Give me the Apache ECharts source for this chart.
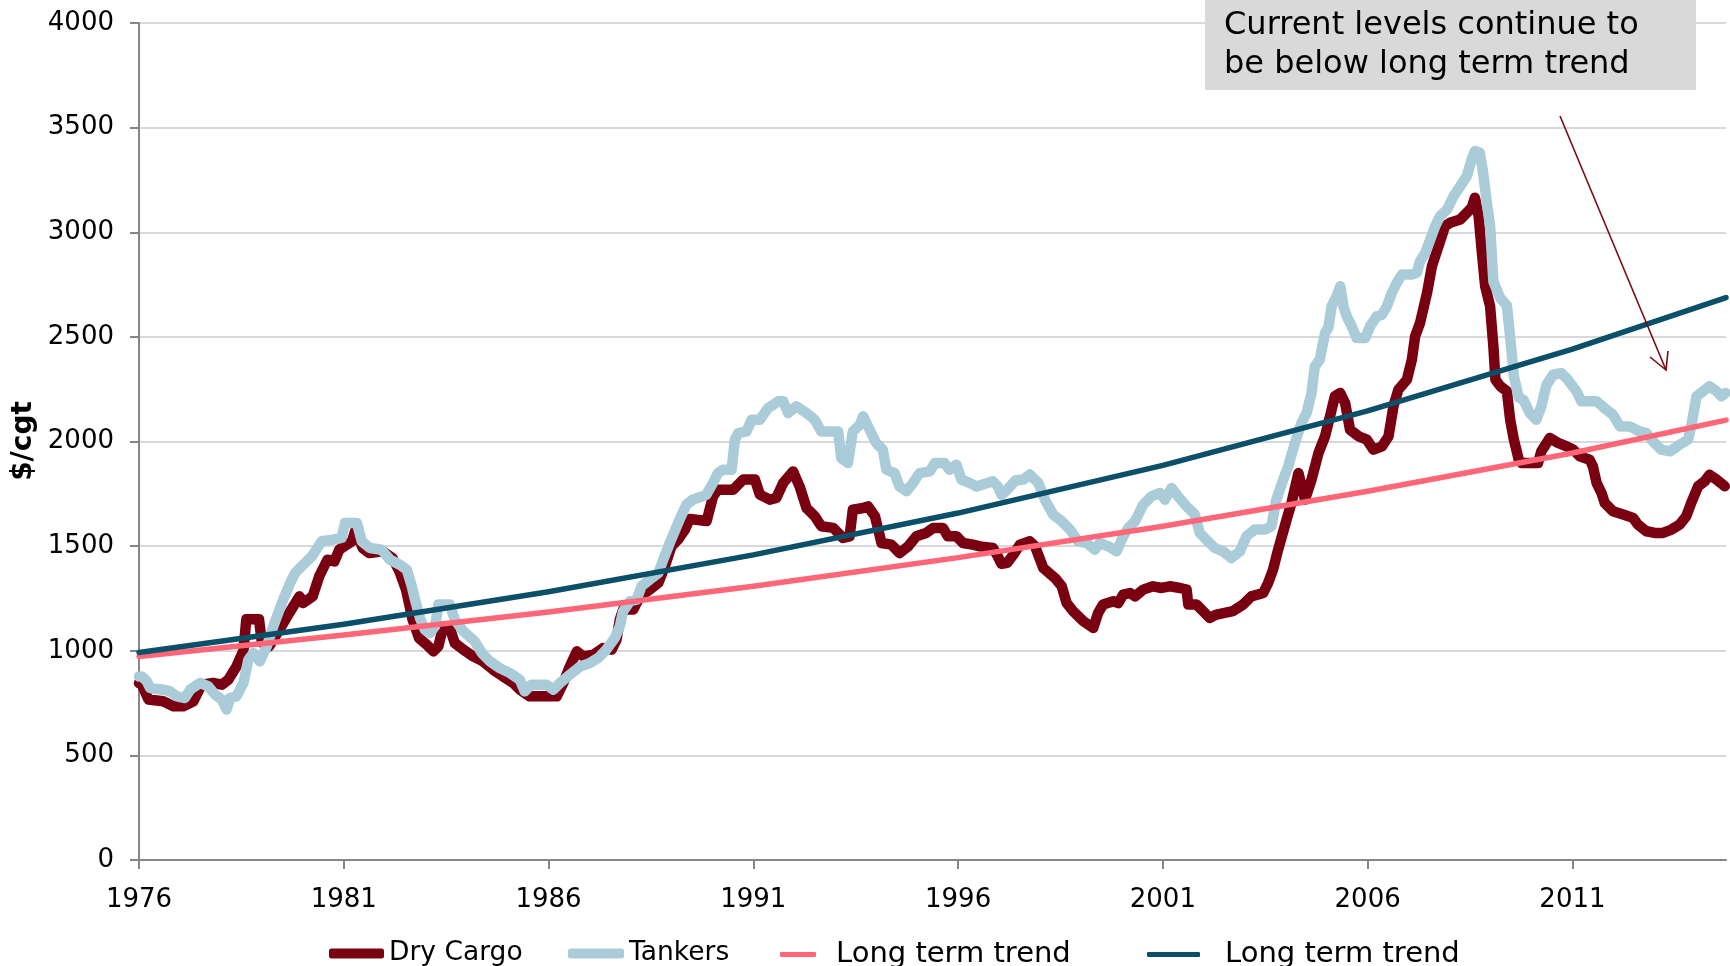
<!DOCTYPE html>
<html>
<head>
<meta charset="utf-8">
<script src="https://cdn.jsdelivr.net/npm/echarts@6/dist/echarts.min.js"></script>
<style>
  html, body { margin: 0; padding: 0; background: #fff; }
  #chart { width: 1730px; height: 966px; }
</style>
</head>
<body>
<div id="chart"></div>
<script>
// tick years on the x axis
const yearTicks = [1976, 1981, 1986, 1991, 1996, 2001, 2006, 2011];

// Dry Cargo newbuilding price, [year, $/cgt]
const dryCargo = [
  [1976.0, 845], [1976.07, 838], [1976.23, 767], [1976.59, 759], [1976.84, 735], [1977.08, 735],
  [1977.33, 759], [1977.53, 838], [1977.81, 846], [1978.02, 838], [1978.18, 861], [1978.38, 925],
  [1978.55, 1000], [1978.62, 1150], [1978.93, 1150], [1979.0, 1040], [1979.18, 1021], [1979.43, 1101],
  [1979.67, 1181], [1979.92, 1260], [1980.0, 1228], [1980.24, 1260], [1980.40, 1356], [1980.6, 1435],
  [1980.77, 1427], [1980.89, 1483], [1981.01, 1499], [1981.2, 1523], [1981.29, 1579], [1981.46, 1491],
  [1981.62, 1467], [1981.95, 1475], [1982.19, 1443], [1982.36, 1379], [1982.52, 1292], [1982.68, 1149],
  [1982.84, 1060], [1983.02, 1030], [1983.19, 997], [1983.31, 1021], [1983.43, 1117], [1983.59, 1109],
  [1983.71, 1037], [1983.92, 1005], [1984.16, 973], [1984.4, 949], [1984.65, 909], [1984.89, 877],
  [1985.14, 846], [1985.30, 814], [1985.54, 782], [1985.79, 782], [1986.2, 782], [1986.36, 846],
  [1986.52, 925], [1986.69, 997], [1986.85, 973], [1987.09, 981], [1987.33, 1013], [1987.54, 1005],
  [1987.66, 1053], [1987.74, 1149], [1987.82, 1197], [1988.07, 1197], [1988.23, 1260], [1988.47, 1292],
  [1988.68, 1324], [1988.84, 1403], [1989.0, 1499], [1989.16, 1531], [1989.33, 1579], [1989.45, 1630],
  [1989.86, 1620], [1990.02, 1740], [1990.14, 1770], [1990.51, 1770], [1990.75, 1818], [1991.04, 1818],
  [1991.16, 1746], [1991.40, 1722], [1991.56, 1730], [1991.73, 1802], [1991.97, 1857], [1992.13, 1785],
  [1992.30, 1682], [1992.50, 1643], [1992.66, 1595], [1992.95, 1587], [1993.19, 1539], [1993.35, 1547],
  [1993.43, 1674], [1993.68, 1682], [1993.80, 1690], [1993.97, 1643], [1994.13, 1515], [1994.37, 1507],
  [1994.57, 1467], [1994.78, 1499], [1994.98, 1547], [1995.22, 1563], [1995.39, 1587], [1995.63, 1587],
  [1995.75, 1547], [1995.96, 1547], [1996.12, 1515], [1996.36, 1507], [1996.53, 1499], [1996.85, 1491],
  [1996.97, 1451], [1997.06, 1415], [1997.2, 1420], [1997.35, 1459], [1997.51, 1507], [1997.75, 1523],
  [1997.88, 1499], [1998.08, 1395], [1998.37, 1347], [1998.53, 1308], [1998.65, 1228], [1998.81, 1189],
  [1999.06, 1141], [1999.30, 1109], [1999.42, 1181], [1999.54, 1221], [1999.79, 1237], [1999.91, 1228],
  [2000.03, 1268], [2000.20, 1276], [2000.32, 1260], [2000.52, 1292], [2000.76, 1308], [2000.97, 1300],
  [2001.17, 1308], [2001.42, 1300], [2001.58, 1292], [2001.62, 1221], [2001.82, 1221], [2001.98, 1189],
  [2002.14, 1157], [2002.31, 1173], [2002.51, 1181], [2002.71, 1189], [2002.96, 1221], [2003.16, 1260],
  [2003.45, 1276], [2003.57, 1324], [2003.69, 1387], [2003.81, 1480], [2004.02, 1626], [2004.14, 1706],
  [2004.31, 1849], [2004.47, 1722], [2004.63, 1818], [2004.80, 1945], [2004.96, 2025], [2005.08, 2120],
  [2005.20, 2216], [2005.33, 2232], [2005.45, 2184], [2005.57, 2056], [2005.78, 2025], [2005.98, 2009],
  [2006.14, 1961], [2006.35, 1977], [2006.51, 2025], [2006.63, 2168], [2006.75, 2248], [2006.96, 2296],
  [2007.08, 2392], [2007.16, 2503], [2007.28, 2567], [2007.45, 2710], [2007.57, 2838], [2007.73, 2934],
  [2007.89, 3029], [2008.01, 3045], [2008.26, 3061], [2008.38, 3085], [2008.54, 3117], [2008.62, 3165],
  [2008.71, 3077], [2008.79, 2902], [2008.87, 2742], [2008.99, 2646], [2009.07, 2455], [2009.12, 2296],
  [2009.24, 2264], [2009.40, 2240], [2009.48, 2104], [2009.57, 2009], [2009.69, 1913], [2009.76, 1897],
  [2010.16, 1897], [2010.24, 1953], [2010.45, 2017], [2010.65, 1993], [2010.86, 1977], [2011.02, 1961],
  [2011.18, 1929], [2011.42, 1913], [2011.50, 1881], [2011.59, 1802], [2011.71, 1754], [2011.79, 1706],
  [2011.99, 1667], [2012.24, 1651], [2012.48, 1635], [2012.60, 1603], [2012.81, 1571], [2013.01, 1563],
  [2013.21, 1563], [2013.42, 1579], [2013.62, 1603], [2013.78, 1643], [2013.90, 1706], [2014.07, 1786],
  [2014.23, 1810], [2014.35, 1841], [2014.52, 1818], [2014.72, 1786]
];

// Tankers newbuilding price, [year, $/cgt]
const tankers = [
  [1976.0, 877], [1976.07, 877], [1976.19, 854], [1976.27, 822], [1976.59, 814], [1976.76, 806],
  [1976.92, 782], [1977.12, 774], [1977.25, 814], [1977.49, 846], [1977.69, 830], [1977.86, 790],
  [1978.02, 767], [1978.14, 719], [1978.22, 774], [1978.38, 782], [1978.55, 846], [1978.67, 957],
  [1978.79, 989], [1978.95, 949], [1979.12, 1021], [1979.28, 1117], [1979.52, 1244], [1979.69, 1324],
  [1979.81, 1371], [1980.01, 1411], [1980.22, 1451], [1980.46, 1523], [1980.74, 1531], [1980.95, 1539],
  [1981.03, 1611], [1981.32, 1611], [1981.44, 1523], [1981.64, 1491], [1981.92, 1483], [1982.13, 1435],
  [1982.37, 1411], [1982.54, 1387], [1982.66, 1308], [1982.74, 1244], [1982.86, 1157], [1982.98, 1100],
  [1983.11, 1085], [1983.23, 1117], [1983.31, 1221], [1983.59, 1221], [1983.71, 1149], [1983.92, 1093],
  [1984.2, 1045], [1984.37, 989], [1984.57, 949], [1984.81, 917], [1985.06, 893], [1985.30, 861],
  [1985.42, 806], [1985.58, 838], [1985.95, 838], [1986.12, 814], [1986.28, 846], [1986.52, 885],
  [1986.77, 925], [1987.01, 941], [1987.21, 965], [1987.41, 1005], [1987.62, 1061], [1987.74, 1117],
  [1987.82, 1189], [1987.99, 1237], [1988.15, 1244], [1988.27, 1308], [1988.47, 1340], [1988.68, 1371],
  [1988.8, 1435], [1988.96, 1515], [1989.2, 1627], [1989.37, 1699], [1989.53, 1723], [1989.85, 1745],
  [1990.01, 1800], [1990.14, 1850], [1990.26, 1865], [1990.47, 1865], [1990.55, 2009], [1990.63, 2040],
  [1990.83, 2048], [1990.96, 2104], [1991.16, 2104], [1991.36, 2160], [1991.61, 2192], [1991.73, 2192],
  [1991.85, 2136], [1992.05, 2168], [1992.30, 2136], [1992.50, 2104], [1992.66, 2048], [1993.07, 2048],
  [1993.15, 1920], [1993.31, 1897], [1993.43, 2048], [1993.60, 2080], [1993.68, 2120], [1993.84, 2056],
  [1994.00, 1993], [1994.16, 1961], [1994.25, 1865], [1994.45, 1849], [1994.57, 1785], [1994.74, 1762],
  [1994.9, 1802], [1995.06, 1849], [1995.31, 1857], [1995.43, 1897], [1995.67, 1897], [1995.79, 1865],
  [1995.96, 1889], [1996.08, 1818], [1996.28, 1802], [1996.45, 1785], [1996.85, 1810], [1996.97, 1785],
  [1997.06, 1745], [1997.18, 1766], [1997.40, 1814], [1997.59, 1818], [1997.75, 1842], [1997.96, 1802],
  [1998.12, 1722], [1998.32, 1651], [1998.53, 1619], [1998.73, 1579], [1998.93, 1523], [1999.14, 1515],
  [1999.34, 1483], [1999.46, 1515], [1999.67, 1499], [1999.87, 1475], [2000.03, 1547], [2000.16, 1587],
  [2000.32, 1619], [2000.52, 1698], [2000.72, 1738], [2000.93, 1754], [2001.05, 1722], [2001.21, 1778],
  [2001.37, 1738], [2001.58, 1690], [2001.78, 1651], [2001.90, 1563], [2002.06, 1531], [2002.27, 1491],
  [2002.47, 1475], [2002.67, 1443], [2002.88, 1475], [2003.04, 1547], [2003.24, 1579], [2003.49, 1579],
  [2003.65, 1595], [2003.77, 1722], [2003.94, 1818], [2004.06, 1882], [2004.22, 1990], [2004.38, 2088],
  [2004.51, 2136], [2004.63, 2232], [2004.71, 2359], [2004.83, 2391], [2004.96, 2519], [2005.04, 2543],
  [2005.12, 2646], [2005.24, 2694], [2005.33, 2742], [2005.41, 2646], [2005.49, 2598], [2005.61, 2551],
  [2005.73, 2495], [2005.94, 2495], [2006.06, 2551], [2006.22, 2598], [2006.35, 2606], [2006.47, 2646],
  [2006.59, 2710], [2006.71, 2758], [2006.84, 2798], [2007.08, 2798], [2007.20, 2806], [2007.28, 2862],
  [2007.41, 2902], [2007.53, 2966], [2007.65, 3029], [2007.77, 3077], [2007.94, 3109], [2008.10, 3173],
  [2008.26, 3220], [2008.42, 3268], [2008.54, 3348], [2008.62, 3388], [2008.74, 3380], [2008.82, 3284],
  [2008.91, 3141], [2008.99, 3029], [2009.07, 2765], [2009.24, 2685], [2009.40, 2650], [2009.48, 2500],
  [2009.57, 2312], [2009.69, 2210], [2009.80, 2200], [2009.96, 2136], [2010.12, 2104], [2010.24, 2168],
  [2010.37, 2272], [2010.53, 2319], [2010.73, 2327], [2010.89, 2295], [2011.10, 2240], [2011.22, 2192],
  [2011.59, 2192], [2011.83, 2152], [2011.99, 2128], [2012.16, 2072], [2012.40, 2072], [2012.64, 2048],
  [2012.81, 2040], [2012.97, 2000], [2013.17, 1961], [2013.38, 1953], [2013.62, 1985], [2013.82, 2009],
  [2013.90, 2072], [2014.03, 2216], [2014.19, 2240], [2014.35, 2264], [2014.52, 2240], [2014.64, 2216],
  [2014.74, 2232]
];

// long term trend curves, read at the tick years and the right edge
const trendYears = [1976, 1981, 1986, 1991, 1996, 2001, 2006, 2011, 2014.75];
const dryTrend = [973, 1075, 1185, 1308, 1445, 1595, 1762, 1945, 2102];
const tankerTrend = [992, 1127, 1282, 1458, 1658, 1886, 2146, 2441, 2688];

const FONT = 'DejaVu Sans, Verdana, sans-serif';
const COLORS = {
  dry: '#780010',
  tanker: '#AACBD8',
  dryTrend: '#FF6678',
  tankerTrend: '#0B4F69',
  axis: '#868686',
  grid: '#D9D9D9'
};

const chart = echarts.init(document.getElementById('chart'));

/**
 * one legend per entry, so each one can sit where the reference puts it
 */
const makeLegend = (name, left, iconW, iconH, fontSize, textGap, label) => ({
  data: [name],
  left: left,
  top: 940,
  padding: 0,
  icon: 'roundRect',
  itemWidth: iconW,
  itemHeight: iconH,
  selectedMode: false,
  formatter: () => label,
  textStyle: {
    fontFamily: FONT,
    fontSize: fontSize,
    color: '#000',
    padding: [0, 0, 0, textGap]
  }
});

const lineSeries = (name, data, color, width) => ({
  name: name,
  type: 'line',
  data: data,
  showSymbol: false,
  symbol: 'none',
  color: color,
  lineStyle: { color: color, width: width, cap: 'round', join: 'round' },
  emphasis: { disabled: true }
});

const option = {
  animation: false,
  backgroundColor: '#fff',
  grid: { left: 139, right: 4, top: 23, bottom: 106, containLabel: false, outerBoundsMode: 'none' },
  legend: [
    makeLegend('Dry Cargo', 329, 55, 10, 26.5, 0, 'Dry Cargo'),
    makeLegend('Tankers', 568, 56, 10, 26.5, 0, 'Tankers'),
    makeLegend('Dry trend', 780, 36, 5, 29, 15, 'Long term trend'),
    makeLegend('Tanker trend', 1147, 53, 5, 29, 20, 'Long term trend')
  ],
  xAxis: {
    type: 'value',
    min: 1976,
    max: 2014.75,
    interval: 5,
    axisLine: { show: true, lineStyle: { color: COLORS.axis, width: 2 } },
    axisTick: {
      show: true,
      customValues: yearTicks,
      length: 9,
      lineStyle: { color: COLORS.axis, width: 2 }
    },
    axisLabel: {
      customValues: yearTicks,
      formatter: (v) => String(v),
      fontFamily: FONT,
      fontSize: 26,
      color: '#000',
      margin: 27
    },
    splitLine: { show: false }
  },
  yAxis: {
    type: 'value',
    min: 0,
    max: 4000,
    interval: 500,
    axisLine: { show: true, lineStyle: { color: COLORS.axis, width: 2 } },
    axisTick: { show: true, length: 9, lineStyle: { color: COLORS.axis, width: 2 } },
    axisLabel: {
      formatter: (v) => String(v),
      fontFamily: FONT,
      fontSize: 26,
      color: '#000',
      margin: 25
    },
    splitLine: { show: true, lineStyle: { color: COLORS.grid, width: 2 } }
  },
  series: [
    lineSeries('Dry Cargo', dryCargo, COLORS.dry, 10.5),
    lineSeries('Tankers', tankers, COLORS.tanker, 10.5),
    lineSeries('Dry trend', trendYears.map((y, i) => [y, dryTrend[i]]), COLORS.dryTrend, 5.5),
    lineSeries('Tanker trend', trendYears.map((y, i) => [y, tankerTrend[i]]), COLORS.tankerTrend, 5.5)
  ],
  graphic: [
    // y axis title
    {
      type: 'text',
      x: 24,
      y: 441,
      rotation: Math.PI / 2,
      style: {
        text: '$/cgt',
        font: 'bold 28px ' + FONT,
        fill: '#000',
        align: 'center',
        verticalAlign: 'middle'
      }
    },
    // annotation box
    {
      type: 'rect',
      left: 1205,
      top: 0,
      shape: { width: 491, height: 90 },
      style: { fill: '#D9D9D9' },
      z: 10
    },
    {
      type: 'text',
      left: 1224,
      top: 6,
      style: {
        text: 'Current levels continue to\nbe below long term trend',
        font: '32px ' + FONT,
        fill: '#000',
        lineHeight: 39
      },
      z: 11
    },
    // arrow pointing at the latest levels
    {
      type: 'line',
      shape: { x1: 1560, y1: 116, x2: 1666, y2: 370 },
      style: { stroke: '#7A0A14', lineWidth: 1.6 },
      z: 10
    },
    {
      type: 'polyline',
      shape: { points: [[1650, 357], [1666, 370], [1668, 351]] },
      style: { stroke: '#7A0A14', lineWidth: 1.6, fill: null },
      z: 10
    }
  ]
};

chart.setOption(option);
</script>
</body>
</html>
